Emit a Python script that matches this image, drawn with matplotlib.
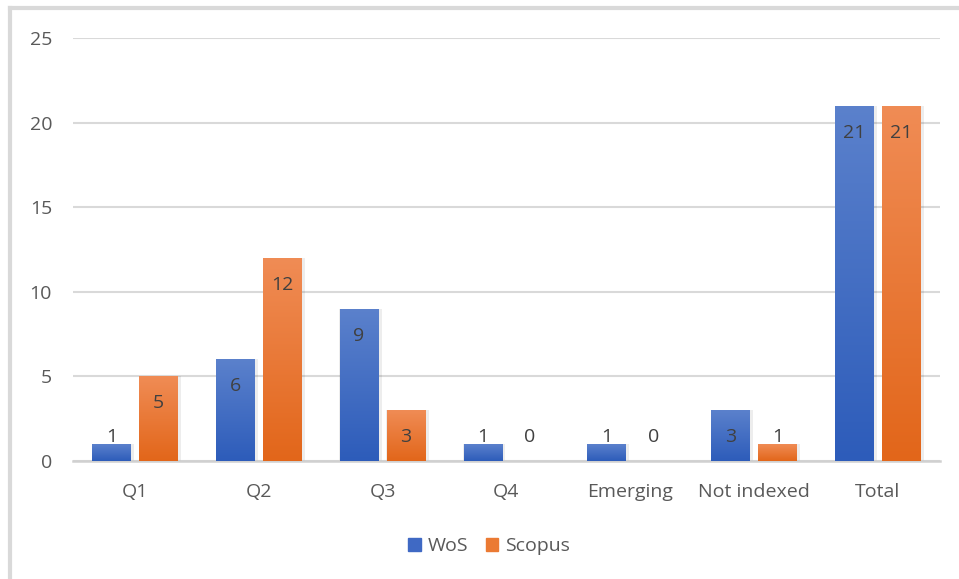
import matplotlib.pyplot as plt
import matplotlib.colors as mcolors
import numpy as np
from matplotlib.patches import Patch

categories = ['Q1', 'Q2', 'Q3', 'Q4', 'Emerging', 'Not indexed', 'Total']
wos = [1, 6, 9, 1, 1, 3, 21]
scopus = [5, 12, 3, 0, 0, 1, 21]

plt.rcParams['font.family'] = ['Open Sans', 'DejaVu Sans']

fig = plt.figure(figsize=(9.59, 5.79), dpi=100)
ax = fig.add_axes([0.076, 0.204, 0.904, 0.730])

x = np.arange(len(categories))
w = 0.31
off = 0.19

blue_grad = mcolors.LinearSegmentedColormap.from_list('b', ['#2d5cba', '#5b81cc'])
orange_grad = mcolors.LinearSegmentedColormap.from_list('o', ['#e2661a', '#f08c55'])
grad = np.linspace(0, 1, 256).reshape(-1, 1)

def draw(vals, dx, cmap):
    bars = ax.bar(x + dx, vals, w, color='none', edgecolor='none', zorder=3)
    for b in bars:
        h = b.get_height()
        if h <= 0:
            continue
        # soft shadow
        ax.bar(b.get_x() + b.get_width() / 2 + 0.012, h, w + 0.03,
               color='#000000', alpha=0.07, zorder=2)
        im = ax.imshow(grad, cmap=cmap, aspect='auto', origin='lower',
                       extent=[b.get_x(), b.get_x() + b.get_width(), 0, h], zorder=3)
        im.set_clip_path(b)
    for xi, v in zip(x + dx, vals):
        y = max(v - 1.6, 1.42)
        ax.text(xi, y, str(v), ha='center', va='center', fontsize=14,
                color='#404040', zorder=5)

draw(wos, -off, blue_grad)
draw(scopus, off, orange_grad)

ax.set_xlim(-0.5, len(categories) - 0.5)
ax.set_ylim(0, 25)
ax.set_yticks(range(0, 26, 5))
ax.set_xticks(x)
ax.set_xticklabels(categories)
ax.tick_params(axis='both', length=0, labelsize=14, labelcolor='#595959')
ax.tick_params(axis='y', pad=15)
ax.tick_params(axis='x', pad=16)
ax.grid(axis='y', color='#d9d9d9', linewidth=1.5, zorder=0)
ax.set_axisbelow(True)
for s in ['top', 'right', 'left']:
    ax.spines[s].set_visible(False)
ax.spines['bottom'].set_color('#d0d0d0')
ax.spines['bottom'].set_linewidth(1.8)

handles = [Patch(color='#3f69c4', label='WoS'), Patch(color='#eb7a33', label='Scopus')]
fig.legend(handles=handles, loc='center', bbox_to_anchor=(0.51, 0.057), ncol=2,
           frameon=False, fontsize=14, handlelength=0.65, handleheight=0.65,
           handletextpad=0.35, columnspacing=0.9, labelcolor='#595959')

# chart border (top and left visible)
fig.add_artist(plt.Line2D([0.010, 0.010], [0, 0.987], color='#d9d9d9', lw=3,
                          transform=fig.transFigure))
fig.add_artist(plt.Line2D([0.010, 1.0], [0.987, 0.987], color='#d9d9d9', lw=3,
                          transform=fig.transFigure))

fig.savefig('out.png', dpi=100)
